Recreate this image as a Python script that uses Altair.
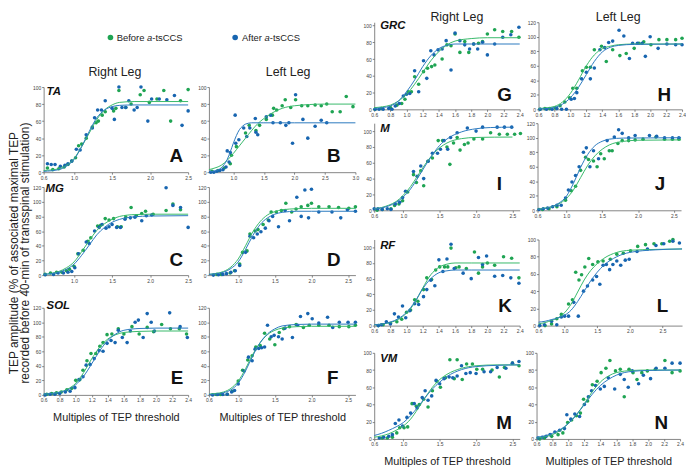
import altair as alt
import pandas as pd

FONT = "Liberation Sans"
GREEN, BLUE = "#1fa453", "#1765b0"
GREEN_LINE, BLUE_LINE = "#38b96a", "#2a79bf"

LEGEND_LABELS = ["Before ", "After "]
LEGEND_ITALIC = "a"
LEGEND_SUFFIX = "-tsCCS"
Y_TITLE = ["TEP amplitude (% of associated maximal TEP",
           "recorded before 40-min of transspinal stimulation)"]
X_TITLE = "Multiples of TEP threshold"

# ---------------- Panel A : TA, right leg ----------------
A_green = [(0.65,5),(0.72,3),(0.8,4),(0.87,6),(0.92,9),(0.97,13),(1.02,17),(1.06,31),(1.1,33),(1.16,40),
           (1.24,53),(1.29,58),(1.32,60),(1.37,67),(1.41,71),(1.52,72),(1.55,75),(1.59,96),(1.68,76),(1.75,80),
           (1.87,91),(1.92,96),(1.99,82),(2.09,86),(2.18,96),(2.27,60),(2.4,84),(2.5,97)]
A_blue = [(0.65,10),(0.7,9),(0.75,9),(0.82,7),(0.88,8),(0.92,10),(0.97,13),(1.03,27),(1.08,26),(1.16,44),
          (1.24,52),(1.27,64),(1.31,73),(1.36,73),(1.41,84),(1.5,75),(1.53,62),(1.59,100),(1.63,76),(1.68,76),
          (1.72,84),(1.79,73),(1.83,76),(1.88,100),(1.97,60),(2.02,86),(2.12,86),(2.22,85),(2.32,90),(2.42,55),(2.5,72)]
A_fit_green = [(0.6,2),(0.8,4),(0.9,8),(1.0,16),(1.1,30),(1.2,46),(1.3,62),(1.4,73),(1.5,79),(1.6,82),(1.8,83),(2.0,83),(2.5,83)]
A_fit_blue = [(0.6,1),(0.8,3),(0.9,7),(1.0,15),(1.1,30),(1.2,48),(1.3,64),(1.4,73),(1.5,77),(1.6,78.5),(1.8,79),(2.0,79),(2.5,79)]

# ---------------- Panel B : TA, left leg ----------------
B_green = [(0.65,1),(0.75,2),(0.85,5),(0.95,10),(0.97,20),(1.05,30),(1.2,46),(1.26,55),(1.37,49),(1.43,55),
           (1.54,62),(1.64,67),(1.66,75),(1.71,73),(1.8,78),(1.85,85),(1.94,76),(2.02,85),(2.12,78),(2.22,78),
           (2.34,79),(2.44,78),(2.53,80),(2.62,71),(2.75,71),(2.85,89),(2.96,77)]
B_blue = [(0.63,0),(0.68,0),(0.73,1),(0.78,2),(0.83,3),(0.88,6),(0.9,25),(0.93,12),(0.95,23),(1.03,67),
          (1.04,34),(1.09,38),(1.17,52),(1.22,42),(1.27,52),(1.36,63),(1.37,47),(1.4,44),(1.54,65),(1.61,67),
          (1.65,58),(1.77,58),(1.86,55),(1.91,58),(1.97,34),(2.02,91),(2.14,62),(2.22,40),(2.34,54),(2.44,61),(2.53,58)]
B_fit_green = [(0.6,3),(0.7,5),(0.8,8),(0.9,14),(1.0,22),(1.1,31),(1.2,40),(1.3,49),(1.4,57),(1.5,63),(1.6,68),
               (1.8,75),(2.0,78),(2.5,80),(3.0,80)]
B_fit_blue = [(0.6,0.5),(0.7,1.5),(0.8,5),(0.85,9),(0.9,15),(0.95,24),(1.0,34),(1.05,43),(1.1,50),(1.15,54),
              (1.2,56.5),(1.3,58),(1.5,58),(2.0,58),(3.0,58)]

# ---------------- Panel C : MG, right leg ----------------
C_green = [(0.62,1),(0.69,3),(0.77,4),(0.84,4),(0.9,6),(0.94,8),(1.0,12),(1.05,29),(1.12,34),(1.18,46),
           (1.22,51),(1.31,67),(1.35,68),(1.41,77),(1.46,75),(1.52,77),(1.57,66),(1.62,66),(1.68,79),(1.75,92),
           (1.82,81),(1.89,84),(1.94,87),(2.04,83),(2.21,88),(2.3,97),(2.4,89)]
C_blue = [(0.62,0.5),(0.73,1),(0.79,3),(0.86,3),(0.92,4),(0.97,5),(1.01,10),(1.06,29),(1.16,45),(1.2,43),
          (1.27,60),(1.33,65),(1.37,69),(1.42,64),(1.46,66),(1.5,69),(1.56,65),(1.61,65),(1.67,76),(1.74,78),
          (1.8,79),(1.89,74),(1.95,81),(2.02,82),(2.21,119),(2.3,95),(2.4,92),(2.5,65)]
C_fit_green = [(0.6,1),(0.8,5),(0.9,10),(1.0,18),(1.1,32),(1.2,47),(1.3,61),(1.4,70),(1.5,76),(1.6,80),(1.8,82.5),(2.0,83),(2.5,83)]
C_fit_blue = [(0.6,1),(0.8,4),(0.9,8),(1.0,15),(1.1,27),(1.2,41),(1.3,55),(1.4,65),(1.5,72),(1.6,76),(1.8,79.5),(2.0,80.5),(2.5,81)]

# ---------------- Panel D : MG, left leg ----------------
D_green = [(0.71,1),(0.77,1),(0.89,3),(0.95,6),(1.02,15),(1.06,31),(1.12,33),(1.16,56),(1.23,60),(1.27,62),
           (1.34,69),(1.41,75),(1.45,86),(1.52,86),(1.59,88),(1.65,98),(1.73,86),(1.79,90),(1.86,93),(1.95,95),
           (2.0,98),(2.1,93),(2.24,93),(2.37,92),(2.51,91),(2.6,93)]
D_blue = [(0.66,0),(0.73,0.5),(0.79,1),(0.84,2),(0.9,4),(0.96,6),(1.02,13),(1.1,31),(1.16,53),(1.21,51),
          (1.26,56),(1.31,59),(1.37,64),(1.42,74),(1.47,80),(1.55,66),(1.64,88),(1.7,74),(1.8,106),(1.86,80),
          (1.91,116),(1.96,78),(2.0,117),(2.1,86),(2.28,86),(2.4,78),(2.49,89),(2.6,87)]
D_fit_green = [(0.6,1),(0.8,5),(0.9,11),(1.0,22),(1.1,40),(1.2,59),(1.3,73),(1.4,82),(1.5,86.5),(1.6,89),(1.8,90.5),(2.0,91),(2.6,91)]
D_fit_blue = [(0.6,1),(0.8,4),(0.9,9),(1.0,18),(1.1,35),(1.2,54),(1.3,69),(1.4,78),(1.5,83),(1.6,85.5),(1.8,87),(2.0,87),(2.6,87)]

# ---------------- Panel E : SOL, right leg ----------------
E_green = [(0.64,1),(0.7,2),(0.76,3),(0.82,4),(0.89,7),(0.95,9),(1.0,20),(1.05,21),(1.09,34),(1.14,47),
           (1.19,57),(1.25,57),(1.3,67),(1.34,72),(1.39,83),(1.45,84),(1.53,91),(1.6,84),(1.7,94),(1.79,84),
           (1.89,93),(1.97,87),(2.07,97),(2.18,91),(2.29,91),(2.38,84)]
E_blue = [(0.62,0),(0.68,1),(0.74,1),(0.8,2),(0.87,4),(0.93,5),(0.99,10),(1.04,21),(1.09,25),(1.13,41),
          (1.18,42),(1.23,50),(1.29,61),(1.34,60),(1.39,71),(1.44,75),(1.49,72),(1.53,89),(1.58,79),(1.64,72),
          (1.68,88),(1.74,100),(1.78,103),(1.84,79),(1.89,112),(1.94,100),(1.98,88),(2.17,113),(2.3,94),(2.39,79)]
E_fit_green = [(0.6,1),(0.7,2),(0.8,4),(0.9,8),(1.0,16),(1.1,31),(1.2,50),(1.3,66),(1.4,77),(1.5,83),(1.6,86),(1.8,87.5),(2.0,88),(2.4,88)]
E_fit_blue = [(0.6,1),(0.7,2),(0.8,3.5),(0.9,7),(1.0,14),(1.1,26),(1.2,43),(1.3,61),(1.4,75),(1.5,84),(1.6,89),(1.8,91.5),(2.0,92),(2.4,92)]

# ---------------- Panel F : SOL, left leg ----------------
F_green = [(0.7,0.5),(0.76,0.5),(0.85,1),(0.92,5),(1.0,19),(1.06,34),(1.13,48),(1.19,54),(1.24,66),(1.3,68),
           (1.36,85),(1.43,77),(1.5,69),(1.56,86),(1.62,91),(1.7,94),(1.79,97),(1.89,93),(1.97,96),(2.1,96),
           (2.24,96),(2.38,94),(2.51,94),(2.6,96)]
F_blue = [(0.65,0),(0.72,0.5),(0.79,0.5),(0.85,1),(0.91,4),(0.95,6),(1.0,15),(1.08,33),(1.14,52),(1.19,47),
          (1.23,63),(1.28,64),(1.32,65),(1.36,66),(1.4,96),(1.45,80),(1.49,82),(1.55,80),(1.6,77),(1.64,92),
          (1.74,79),(1.81,96),(1.85,108),(1.95,112),(2.01,105),(2.1,99),(2.22,107),(2.29,93),(2.38,100),(2.5,100),(2.6,100)]
F_fit_green = [(0.6,1),(0.7,2),(0.8,4),(0.9,9),(1.0,19),(1.1,36),(1.2,56),(1.3,72),(1.4,83),(1.5,89),(1.6,92),(1.8,94),(2.0,94.5),(2.6,94.5)]
F_fit_blue = [(0.6,0.5),(0.7,1),(0.8,3),(0.9,7),(1.0,16),(1.1,33),(1.2,54),(1.3,72),(1.4,84),(1.5,91),(1.6,95),(1.8,97),(2.0,97.5),(2.6,97.5)]

# ---------------- Panel G : GRC, right leg ----------------
G_green = [(0.61,0),(0.69,1),(0.8,2),(0.88,5),(0.94,7),(0.98,12),(1.02,21),(1.06,21),(1.1,39),(1.15,30),
           (1.21,45),(1.26,49),(1.31,51),(1.35,53),(1.44,60),(1.5,77),(1.55,76),(1.6,90),(1.66,68),(1.72,81),
           (1.77,68),(1.83,78),(1.89,79),(1.94,81),(2.0,90),(2.09,95),(2.19,93),(2.3,93),(2.39,86)]
G_blue = [(0.61,0),(0.66,0),(0.71,0),(0.78,1),(0.82,0),(0.86,4),(0.91,7),(0.96,16),(1.0,18),(1.04,19),
          (1.1,46),(1.15,21),(1.21,58),(1.25,37),(1.3,70),(1.34,65),(1.39,71),(1.44,72),(1.49,82),(1.55,47),
          (1.6,91),(1.66,82),(1.72,77),(1.78,72),(1.83,78),(1.88,72),(1.94,80),(2.0,65),(2.09,78),(2.19,86),
          (2.29,89),(2.39,98)]
G_fit_green = [(0.6,2),(0.7,3),(0.8,5),(0.9,10),(1.0,18),(1.1,30),(1.2,44),(1.3,58),(1.4,69),(1.5,77),(1.6,81.5),(1.8,84.5),(2.0,85.5),(2.4,85.5)]
G_fit_blue = [(0.6,1),(0.7,2),(0.8,4),(0.9,10),(1.0,21),(1.1,35),(1.2,51),(1.3,64),(1.4,72.5),(1.5,76.5),(1.6,78),(1.8,78),(2.4,78)]

# ---------------- Panel H : GRC, left leg ----------------
H_green = [(0.62,0),(0.68,1),(0.74,1),(0.81,2),(0.87,5),(0.93,10),(0.99,16),(1.03,29),(1.08,29),(1.15,53),
           (1.2,58),(1.25,58),(1.3,82),(1.39,87),(1.45,66),(1.53,82),(1.62,74),(1.7,77),(1.8,84),(1.86,91),
           (1.92,93),(2.01,89),(2.11,96),(2.21,96),(2.32,96),(2.4,98)]
H_blue = [(0.62,0),(0.7,0),(0.77,0),(0.83,1),(0.89,0),(0.95,0),(1.01,14),(1.05,15),(1.08,23),(1.14,42),
          (1.2,51),(1.25,42),(1.3,57),(1.37,82),(1.43,85),(1.48,92),(1.53,94),(1.61,109),(1.67,101),(1.74,70),
          (1.78,91),(1.84,91),(1.9,91),(1.94,73),(2.0,100),(2.1,84),(2.21,90),(2.32,89),(2.4,89)]
H_fit_green = [(0.6,1),(0.7,2),(0.8,4),(0.9,10),(1.0,22),(1.1,40),(1.2,60),(1.3,75),(1.4,83.5),(1.5,87),(1.6,89),(1.8,90),(2.4,90)]
H_fit_blue = [(0.6,0.5),(0.7,1),(0.8,2.5),(0.9,7),(1.0,16),(1.1,30),(1.2,48),(1.3,66),(1.4,79),(1.5,85.5),(1.6,88),(1.8,89.5),(2.4,90)]

# ---------------- Panel I : M, right leg ----------------
I_green = [(0.64,0),(0.71,1),(0.83,2),(0.88,6),(0.94,8),(0.99,12),(1.06,23),(1.14,45),(1.18,35),(1.24,50),
           (1.28,31),(1.34,62),(1.4,66),(1.48,88),(1.54,88),(1.6,80),(1.64,58),(1.69,85),(1.74,92),(1.78,76),
           (1.84,83),(1.89,85),(1.97,90),(2.09,90),(2.2,98),(2.32,96),(2.43,96),(2.53,96),(2.61,97)]
I_blue = [(0.6,2),(0.65,2),(0.71,1),(0.78,2),(0.83,1),(0.89,8),(0.95,10),(0.99,16),(1.03,24),(1.14,49),
          (1.19,43),(1.24,56),(1.28,40),(1.34,62),(1.4,72),(1.47,72),(1.51,77),(1.56,88),(1.61,77),(1.65,92),
          (1.74,98),(1.88,104),(2.0,100),(2.09,105),(2.29,105),(2.39,105),(2.49,105)]
I_fit_green = [(0.6,2),(0.7,3.5),(0.8,6.5),(0.9,11),(1.0,19),(1.1,30),(1.2,44),(1.3,58),(1.4,70),(1.5,79),(1.6,85),(1.8,90.5),(2.0,92),(2.5,92.5)]
I_fit_blue = [(0.6,1.5),(0.7,3),(0.8,5.5),(0.9,10),(1.0,17),(1.1,27),(1.2,41),(1.3,56),(1.4,70),(1.5,82),(1.6,90),(1.8,99),(2.0,103),(2.2,104.5),(2.5,105)]

# ---------------- Panel J : M, left leg ----------------
J_green = [(0.67,1),(0.76,2),(0.87,5),(0.99,14),(1.07,27),(1.13,33),(1.2,55),(1.27,73),(1.31,70),(1.38,68),
           (1.43,60),(1.48,78),(1.53,71),(1.6,82),(1.64,82),(1.72,92),(1.78,96),(1.87,96),(1.96,97),(2.07,98),
           (2.25,101),(2.37,98),(2.48,98),(2.57,98)]
J_blue = [(0.62,1),(0.68,2),(0.74,3),(0.81,5),(0.87,7),(0.93,7),(0.99,17),(1.03,28),(1.08,39),(1.13,48),
          (1.18,60),(1.24,80),(1.28,86),(1.33,60),(1.38,82),(1.45,71),(1.57,96),(1.67,101),(1.73,111),(1.78,106),
          (1.87,100),(1.96,103),(2.16,103),(2.26,102),(2.37,100),(2.48,100),(2.57,100)]
J_fit_green = [(0.6,1.5),(0.7,3),(0.8,5),(0.9,9),(1.0,16),(1.1,28),(1.2,45),(1.3,62),(1.4,75),(1.5,84),(1.6,90),(1.8,95),(2.0,96.5),(2.6,97)]
J_fit_blue = [(0.6,1),(0.7,2.5),(0.8,5),(0.9,10),(1.0,19),(1.1,37),(1.2,59),(1.3,77),(1.4,89),(1.5,95),(1.6,98),(1.8,99.5),(2.6,100)]

# ---------------- Panel K : RF, right leg ----------------
K_green = [(0.65,0),(0.71,1),(0.8,3),(0.88,5),(0.94,8),(1.0,17),(1.05,20),(1.1,33),(1.14,31),(1.21,46),
           (1.25,61),(1.31,59),(1.36,71),(1.41,75),(1.47,75),(1.51,75),(1.55,99),(1.61,74),(1.65,75),(1.74,73),
           (1.84,94),(1.89,67),(1.94,75),(2.0,80),(2.09,77),(2.2,88),(2.3,86),(2.39,61)]
K_blue = [(0.65,0),(0.69,1),(0.75,5),(0.8,2),(0.85,15),(0.9,11),(0.95,25),(0.99,10),(1.04,19),(1.1,28),
          (1.15,27),(1.21,37),(1.25,46),(1.3,58),(1.35,51),(1.4,84),(1.45,69),(1.5,85),(1.55,104),(1.59,73),
          (1.7,67),(1.8,60),(1.89,87),(1.94,78),(1.99,89),(2.09,63),(2.19,64),(2.29,61),(2.39,54)]
K_fit_green = [(0.6,1),(0.7,2),(0.8,4),(0.9,8),(1.0,16),(1.1,29),(1.2,48),(1.3,65),(1.4,74.5),(1.5,78.5),(1.6,80),(1.8,80),(2.4,80)]
K_fit_blue = [(0.6,1),(0.7,2),(0.8,4.5),(0.9,9),(1.0,17),(1.1,30),(1.2,47),(1.3,60),(1.4,67.5),(1.5,70),(1.6,71),(1.8,71),(2.4,71)]

# ---------------- Panel L : RF, left leg ----------------
L_green = [(0.7,0),(0.8,2),(0.88,8),(0.95,13),(1.06,25),(1.12,30),(1.17,62),(1.22,53),(1.26,59),(1.31,68),
           (1.37,78),(1.43,71),(1.51,74),(1.59,75),(1.7,77),(1.8,83),(1.9,84),(2.01,87),(2.12,92),(2.24,94),
           (2.37,95),(2.49,95),(2.61,98),(2.66,100)]
L_blue = [(0.62,0),(0.69,1),(0.8,5),(0.88,1),(0.95,10),(1.0,11),(1.06,11),(1.14,27),(1.21,11),(1.29,40),
          (1.35,46),(1.43,53),(1.49,57),(1.54,48),(1.59,70),(1.64,71),(1.69,65),(1.74,71),(1.8,75),(1.86,70),
          (1.93,76),(1.99,77),(2.11,86),(2.27,89),(2.4,93),(2.52,95),(2.66,98),(2.76,96)]
L_fit_green = [(0.6,2),(0.7,3.5),(0.8,6),(0.9,9),(1.0,15),(1.1,25),(1.2,39),(1.3,53),(1.4,64),(1.5,72),(1.6,78),(1.8,85),(2.0,87.5),(2.4,88.5),(2.8,89)]
L_fit_blue = [(0.6,4),(0.7,5),(0.8,7),(0.9,9),(1.0,12),(1.1,18),(1.2,28),(1.3,40),(1.4,52),(1.5,62),(1.6,70),(1.8,80),(2.0,85),(2.4,88),(2.8,89)]

# ---------------- Panel M : VM, right leg ----------------
M_green = [(0.71,1),(0.78,1),(0.85,2),(0.91,7),(0.95,13),(1.01,13),(1.06,14),(1.12,41),(1.18,38),(1.22,40),
           (1.28,46),(1.34,37),(1.4,56),(1.46,67),(1.51,60),(1.58,71),(1.64,92),(1.7,70),(1.74,92),(1.81,69),
           (1.87,87),(1.95,87),(2.01,81),(2.09,81),(2.22,80),(2.32,72),(2.39,83),(2.5,88),(2.59,85)]
M_blue = [(0.67,1),(0.73,2),(0.8,3),(0.85,5),(0.89,18),(0.94,22),(0.99,15),(1.05,25),(1.1,30),(1.15,41),
          (1.19,36),(1.26,48),(1.3,56),(1.34,45),(1.39,50),(1.45,68),(1.5,64),(1.56,70),(1.63,72),(1.68,71),
          (1.74,73),(1.8,85),(1.86,76),(1.92,77),(2.0,76),(2.11,78),(2.2,78),(2.29,83),(2.41,82),(2.5,88),(2.59,90)]
M_fit_green = [(0.6,2),(0.7,3.5),(0.8,6),(0.9,10),(1.0,15),(1.1,23),(1.2,35),(1.3,48),(1.4,60),(1.5,69),(1.6,75),(1.8,82),(2.0,85),(2.3,86),(2.6,86)]
M_fit_blue = [(0.6,4),(0.7,6.5),(0.8,10),(0.9,14),(1.0,19),(1.1,27),(1.2,37),(1.3,48),(1.4,58),(1.5,66),(1.6,72.5),(1.8,80.5),(2.0,84),(2.3,85.5),(2.6,86)]

# ---------------- Panel N : VM, left leg ----------------
N_green = [(0.64,0),(0.7,1),(0.79,3),(0.87,5),(0.93,7),(0.99,19),(1.04,22),(1.1,27),(1.15,30),(1.19,46),
           (1.24,44),(1.3,63),(1.36,67),(1.41,77),(1.47,82),(1.52,91),(1.59,79),(1.65,81),(1.7,49),(1.76,81),
           (1.81,77),(1.86,69),(1.92,77),(1.99,79),(2.09,81),(2.21,91),(2.3,77),(2.4,79)]
N_blue = [(0.62,1),(0.67,2),(0.72,3),(0.77,5),(0.83,8),(0.89,10),(0.95,12),(0.98,28),(1.03,23),(1.08,29),
          (1.14,26),(1.2,40),(1.25,49),(1.29,56),(1.34,62),(1.4,58),(1.45,61),(1.5,71),(1.58,58),(1.65,75),
          (1.7,69),(1.75,60),(1.8,79),(1.88,64),(1.94,74),(2.03,70),(2.1,82),(2.21,82),(2.3,88),(2.4,88)]
N_fit_green = [(0.6,1),(0.7,2.5),(0.8,5),(0.9,10),(1.0,18),(1.1,28),(1.2,41),(1.3,55),(1.4,66),(1.5,73),(1.6,77),(1.8,79.5),(2.0,80),(2.4,80)]
N_fit_blue = [(0.6,2),(0.7,3.5),(0.8,6.5),(0.9,11),(1.0,18),(1.1,28),(1.2,40),(1.3,52),(1.4,62),(1.5,69),(1.6,74),(1.8,78.5),(2.0,79.5),(2.4,80)]

TICKS_02 = [0.6, 0.8, 1.0, 1.2, 1.4, 1.6, 1.8, 2.0, 2.2, 2.4]
TICKS_05 = [0.6, 1.0, 1.5, 2.0, 2.5]
Y100 = [0, 20, 40, 60, 80, 100]
Y120 = [0, 20, 40, 60, 80, 100, 120]


def df(pairs):
    return pd.DataFrame(pairs, columns=["x", "y"])


def panel(letter, muscle, green, blue, fit_g, fit_b, xdom, xticks, ydom, yticks, w, h,
          letter_dx, letter_dy, muscle_dx, muscle_dy, title=None, title_offset=0, title_dx=0,
          xtitle=None, xtitle_pad=3):
    xs = alt.Scale(domain=xdom, nice=False, zero=False)
    ys = alt.Scale(domain=ydom, nice=False, zero=False)
    xax = alt.Axis(values=xticks, format=".1f", title=xtitle, titlePadding=xtitle_pad)
    yax = alt.Axis(values=yticks, format="d", title=None)
    X = alt.X("x:Q", scale=xs, axis=xax)
    Y = alt.Y("y:Q", scale=ys, axis=yax)
    gp = alt.Chart(df(green)).mark_circle(size=13, opacity=1, color=GREEN).encode(x=X, y=Y)
    bp = alt.Chart(df(blue)).mark_circle(size=13, opacity=1, color=BLUE).encode(x=X, y=Y)
    gl = alt.Chart(df(fit_g)).mark_line(strokeWidth=1, color=GREEN_LINE, interpolate="monotone").encode(x=X, y=Y)
    bl = alt.Chart(df(fit_b)).mark_line(strokeWidth=1, color=BLUE_LINE, interpolate="monotone").encode(x=X, y=Y)
    let = alt.Chart(pd.DataFrame({"t": [letter]})).mark_text(
        font=FONT, fontSize=19, fontWeight="bold", align="right", baseline="alphabetic", color="#111"
    ).encode(x=alt.value(w - letter_dx), y=alt.value(h - letter_dy), text="t:N")
    layers = [gp, bp, gl, bl, let]
    if muscle:
        mus = alt.Chart(pd.DataFrame({"t": [muscle]})).mark_text(
            font=FONT, fontSize=11.5, fontWeight="bold", fontStyle="italic", align="left",
            baseline="alphabetic", color="#111"
        ).encode(x=alt.value(muscle_dx), y=alt.value(muscle_dy), text="t:N")
        layers.append(mus)
    ch = alt.layer(*layers).properties(width=w, height=h)
    if title:
        ch = ch.properties(title=alt.TitleParams(title, offset=title_offset, dx=title_dx, fontSize=12.5,
                                                 font=FONT, fontWeight="normal", anchor="middle",
                                                 frame="group", color="#222"))
    return ch


# ---- left block ----
pA = panel("A", "TA", A_green, A_blue, A_fit_green, A_fit_blue, [0.6, 2.5], TICKS_05, [0, 100], Y100,
           146, 86, 5, 10, 3, 8, title="Right Leg", title_offset=7, title_dx=-1)
pB = panel("B", "", B_green, B_blue, B_fit_green, B_fit_blue, [0.6, 3.0], [1.0, 1.5, 2.0, 2.5, 3.0], [0, 100], Y100,
           148, 86, 15, 10, 3, 8, title="Left Leg", title_offset=7, title_dx=6)
pC = panel("C", "MG", C_green, C_blue, C_fit_green, C_fit_blue, [0.6, 2.5], [1.0, 1.5, 2.0, 2.5], [0, 120], Y120,
           146, 89, 5, 9, 2, 5)
pD = panel("D", "", D_green, D_blue, D_fit_green, D_fit_blue, [0.6, 2.6], [1.0, 1.5, 2.0, 2.5], [0, 120], Y120,
           148, 89, 15, 9, 3, 5)
pE = panel("E", "SOL", E_green, E_blue, E_fit_green, E_fit_blue, [0.6, 2.4], TICKS_02, [0, 120], Y120,
           146, 88, 5, 11, 3, 1, xtitle=X_TITLE, xtitle_pad=9)
pF = panel("F", "", F_green, F_blue, F_fit_green, F_fit_blue, [0.6, 2.6], TICKS_05, [0, 120], Y120,
           148, 88, 17, 11, 3, 1, xtitle=X_TITLE, xtitle_pad=9)

rowAB = alt.hconcat(pA, pB, spacing=5)
rowCD = alt.hconcat(pC, pD, spacing=5)
rowEF = alt.hconcat(pE, pF, spacing=5)
left_inner = alt.vconcat(rowAB, alt.vconcat(rowCD, rowEF, spacing=17), spacing=3).properties(
    title=alt.TitleParams(Y_TITLE, orient="left", anchor="middle", fontSize=12, lineHeight=11.5,
                          font=FONT, fontWeight="normal", color="#222", offset=0, dx=-9)
)

leg_df = pd.DataFrame({"label": LEGEND_LABELS})
txt = dict(font=FONT, fontSize=9.5, baseline="middle", align="left", color="#222")
LY = 15.5
legend = alt.layer(
    alt.Chart(leg_df.iloc[[0]]).mark_circle(size=32, opacity=1, color=GREEN).encode(x=alt.value(67.5), y=alt.value(LY)),
    alt.Chart(leg_df.iloc[[1]]).mark_circle(size=32, opacity=1, color=BLUE).encode(x=alt.value(193.5), y=alt.value(LY)),
    alt.Chart(leg_df.iloc[[0]]).mark_text(**txt).encode(x=alt.value(73.9), y=alt.value(LY), text="label:N"),
    alt.Chart(pd.DataFrame({"t": [LEGEND_ITALIC]})).mark_text(fontStyle="italic", **txt).encode(
        x=alt.value(104.5), y=alt.value(LY), text="t:N"),
    alt.Chart(pd.DataFrame({"t": [LEGEND_SUFFIX]})).mark_text(**txt).encode(x=alt.value(109.8), y=alt.value(LY), text="t:N"),
    alt.Chart(leg_df.iloc[[1]]).mark_text(**txt).encode(x=alt.value(200.5), y=alt.value(LY), text="label:N"),
    alt.Chart(pd.DataFrame({"t": [LEGEND_ITALIC]})).mark_text(fontStyle="italic", **txt).encode(
        x=alt.value(223.2), y=alt.value(LY), text="t:N"),
    alt.Chart(pd.DataFrame({"t": [LEGEND_SUFFIX]})).mark_text(**txt).encode(x=alt.value(228.5), y=alt.value(LY), text="t:N"),
).properties(width=290, height=30)

left = alt.vconcat(legend, left_inner, spacing=13.5)

# ---- right block ----
pG = panel("G", "GRC", G_green, G_blue, G_fit_green, G_fit_blue, [0.6, 2.4], TICKS_02, [0, 104], Y100,
           147, 88, 8, 8, 6, 7, title="Right Leg", title_offset=-3, title_dx=10)
pH = panel("H", "", H_green, H_blue, H_fit_green, H_fit_blue, [0.6, 2.4], TICKS_02, [0, 120], Y120,
           145, 88, 11, 8, 3, 8, title="Left Leg", title_offset=-3, title_dx=8)
pI = panel("I", "M", I_green, I_blue, I_fit_green, I_fit_blue, [0.6, 2.6], TICKS_05, [0, 110], Y100,
           147, 88, 18, 20, 6, 8.5)
pJ = panel("J", "", J_green, J_blue, J_fit_green, J_fit_blue, [0.6, 2.6], TICKS_05, [0, 120], Y120,
           145, 88, 16, 20, 3, 9)
pK = panel("K", "RF", K_green, K_blue, K_fit_green, K_fit_blue, [0.6, 2.4], TICKS_02, [0, 110], Y100,
           147, 87, 8, 14, 6, 10)
pL = panel("L", "", L_green, L_blue, L_fit_green, L_fit_blue, [0.6, 2.8], TICKS_05, [0, 100], Y100,
           145, 87, 14, 14, 3, 10)
pM = panel("M", "VM", M_green, M_blue, M_fit_green, M_fit_blue, [0.6, 2.6], TICKS_05, [0, 100], Y100,
           147, 87, 8, 10.5, 6, 9.5, xtitle=X_TITLE, xtitle_pad=9)
pN = panel("N", "", N_green, N_blue, N_fit_green, N_fit_blue, [0.6, 2.4], TICKS_02, [0, 100], Y100,
           145, 87, 12, 10.5, 3, 9.5, xtitle=X_TITLE, xtitle_pad=9)

rowGH = alt.hconcat(pG, pH, spacing=3)
rowIJ = alt.hconcat(pI, pJ, spacing=3)
rowKL = alt.hconcat(pK, pL, spacing=3)
rowMN = alt.hconcat(pM, pN, spacing=3)
right = alt.vconcat(rowGH, alt.vconcat(rowIJ, alt.vconcat(rowKL, rowMN, spacing=17.5), spacing=19.5), spacing=4)

chart = alt.hconcat(left, right, spacing=3).properties(
    padding={"left": 0, "top": 0, "right": 0, "bottom": 0}
).configure_view(stroke=None).configure_axis(
    labelFont=FONT, labelFontSize=5, labelColor="#444", domainColor="#666", tickColor="#666",
    tickSize=2, labelPadding=1, grid=False, labelFlush=False, labelOverlap=False,
    domainWidth=0.8, tickWidth=0.8, titleFont=FONT, titleFontSize=11, titleFontWeight="normal",
    titleColor="#222", minExtent=0
)

chart.save("out.html", embed_options={"renderer": "svg", "actions": False})
